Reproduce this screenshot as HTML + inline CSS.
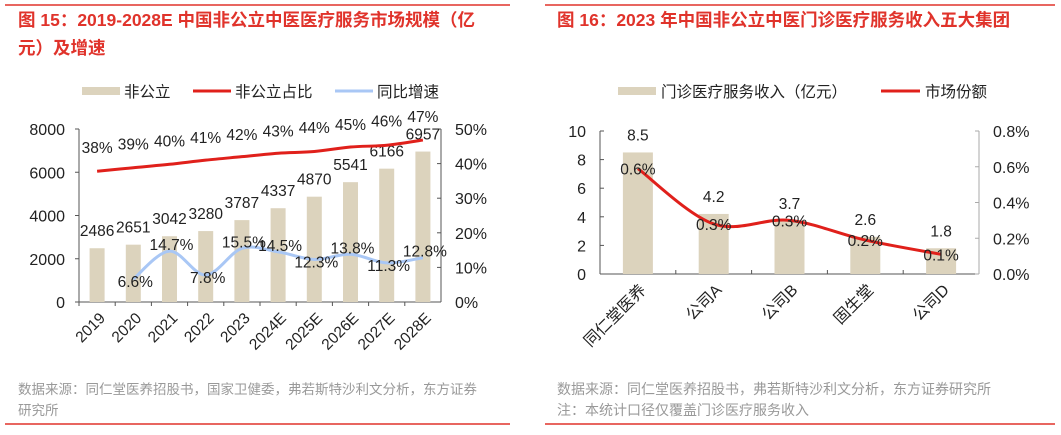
<!DOCTYPE html>
<html><head><meta charset="utf-8"><style>
body{margin:0;width:1061px;height:430px;background:#fff;overflow:hidden;font-family:"Liberation Sans","Noto Sans CJK SC",sans-serif}
svg text{font-family:"Liberation Sans","Noto Sans CJK SC",sans-serif}
</style></head><body>
<svg id="s" width="1061" height="430">
<line x1="5" y1="5" x2="510" y2="5" stroke="#e0332b" stroke-width="1.5"/>
<line x1="5" y1="424" x2="510" y2="424" stroke="#e0332b" stroke-width="1.5"/>
<line x1="545" y1="5" x2="1055" y2="5" stroke="#e0332b" stroke-width="1.5"/>
<line x1="545" y1="424" x2="1055" y2="424" stroke="#e0332b" stroke-width="1.5"/>
<text x="18" y="26" font-size="17.5" font-weight="bold" fill="#e0332b">图  15：2019-2028E 中国非公立中医医疗服务市场规模（亿</text>
<text x="18" y="54" font-size="17.5" font-weight="bold" fill="#e0332b">元）及增速</text>
<text x="557" y="26" font-size="17.5" font-weight="bold" fill="#e0332b">图 16：2023 年中国非公立中医门诊医疗服务收入五大集团</text>
<text x="18" y="394" font-size="13.5" fill="#999">数据来源：同仁堂医养招股书，国家卫健委，弗若斯特沙利文分析，东方证券</text>
<text x="18" y="415" font-size="13.5" fill="#999">研究所</text>
<text x="557" y="394" font-size="14" fill="#999">数据来源：同仁堂医养招股书，弗若斯特沙利文分析，东方证券研究所</text>
<text x="557" y="415" font-size="14" fill="#999">注：本统计口径仅覆盖门诊医疗服务收入</text>
<g id="c1"></g>
<g id="c2"></g>
</svg>
<script>
const years=["2019","2020","2021","2022","2023","2024E","2025E","2026E","2027E","2028E"];
const sizeVals=[2486,2651,3042,3280,3787,4337,4870,5541,6166,6957];
const shareVals=[38,39,40,41,42,43,44,45,46,47];
const shareLineVals=[37.8,38.8,39.8,41,42,43,43.5,44.8,45.3,46.8];
const growthVals=[null,6.6,14.7,7.8,15.5,14.5,12.3,13.8,11.3,12.8];
const leftTicks=[0,2000,4000,6000,8000];
const rightTicks=[0,10,20,30,40,50];

const companies=["同仁堂医养","公司A","公司B","固生堂","公司D"];
const revenueVals=[8.5,4.2,3.7,2.6,1.8];
const mktShareVals=[0.59,0.28,0.30,0.19,0.11];
const mktShareLabels=["0.6%","0.3%","0.3%","0.2%","0.1%"];
const leftTicks2=[0,2,4,6,8,10];
const rightTicks2=[0,0.2,0.4,0.6,0.8];

const NS="http://www.w3.org/2000/svg";
function mk(p,tag,a,txt){const e=document.createElementNS(NS,tag);for(const k in a)e.setAttribute(k,a[k]);if(txt!=null)e.textContent=txt;p.appendChild(e);return e;}
function smooth(pts){let d="M"+pts[0][0]+","+pts[0][1];for(let i=0;i<pts.length-1;i++){const p0=pts[i-1]||pts[i],p1=pts[i],p2=pts[i+1],p3=pts[i+2]||p2;const t=6;d+=` C${p1[0]+(p2[0]-p0[0])/t},${p1[1]+(p2[1]-p0[1])/t} ${p2[0]-(p3[0]-p1[0])/t},${p2[1]-(p3[1]-p1[1])/t} ${p2[0]},${p2[1]}`;}return d;}

// chart 1
(function(){
const g=document.getElementById('c1');
const x0=79,x1=441,y0=302,yT=129,n=years.length,bw=(x1-x0)/n;
const xc=i=>x0+bw*(i+0.5);
const yL=v=>y0-(v/8000)*(y0-yT);
const yR=v=>y0-(v/50)*(y0-yT);
let e;
e=mk(g,'rect',{x:82,y:87,width:38,height:8,fill:'#dcd3bd'});

e=mk(g,'text',{x:124,y:97,'font-size':15.5,fill:'#222'},'非公立');

e=mk(g,'line',{x1:193,y1:91,x2:231,y2:91,stroke:'#e0201b','stroke-width':3});

e=mk(g,'text',{x:235,y:97,'font-size':15.5,fill:'#222'},'非公立占比');

e=mk(g,'line',{x1:335,y1:91,x2:373,y2:91,stroke:'#a9c7f5','stroke-width':3});

e=mk(g,'text',{x:377,y:97,'font-size':15.5,fill:'#222'},'同比增速');

e=mk(g,'line',{x1:x0,y1:yT,x2:x0,y2:y0,stroke:'#555'});

e=mk(g,'line',{x1:x1,y1:yT,x2:x1,y2:y0,stroke:'#555'});

e=mk(g,'line',{x1:x0,y1:y0,x2:x1,y2:y0,stroke:'#555'});

leftTicks.forEach(v=>{mk(g,'line',{x1:x0-4,y1:yL(v),x2:x0,y2:yL(v),stroke:'#555'});
e=mk(g,'text',{x:65,y:yL(v)+6,'font-size':16,'text-anchor':'end',fill:'#222'},v);
});
rightTicks.forEach(v=>{mk(g,'line',{x1:x1-4,y1:yR(v),x2:x1,y2:yR(v),stroke:'#555'});
e=mk(g,'text',{x:455,y:yR(v)+6,'font-size':16,fill:'#222'},v+'%');
});
years.forEach((yr,i)=>{
 mk(g,'line',{x1:x0+bw*i,y1:y0,x2:x0+bw*i,y2:y0+4,stroke:'#555'});
 e=mk(g,'rect',{x:xc(i)-7.5,y:yL(sizeVals[i]),width:15,height:y0-yL(sizeVals[i]),fill:'#dcd3bd'});
 
 e=mk(g,'text',{x:xc(i),y:yL(sizeVals[i])-12,'font-size':15.5,'text-anchor':'middle',fill:'#222'},sizeVals[i]);
 
 e=mk(g,'text',{transform:`translate(${xc(i)+9},${y0+17}) rotate(-45)`,'font-size':15.5,'text-anchor':'end',fill:'#222'},yr);
 
});
e=mk(g,'path',{d:smooth(shareLineVals.map((v,i)=>[xc(i),yR(v)])),fill:'none',stroke:'#e0201b','stroke-width':3});

shareVals.forEach((v,i)=>{e=mk(g,'text',{x:xc(i),y:i==9?122:(153-i*3.3),'font-size':15.5,'text-anchor':'middle',fill:'#222'},v+'%');
 });
const gp=[];growthVals.forEach((v,i)=>{if(v!=null)gp.push([xc(i),yR(v)]);});
e=mk(g,'path',{d:smooth(gp),fill:'none',stroke:'#a9c7f5','stroke-width':3});

growthVals.forEach((v,i)=>{if(v==null)return;const below=(i==1||i==3||i==6||i==8);
 e=mk(g,'text',{x:xc(i)+2,y:yR(v)+(below?8:-1),'font-size':15.5,'text-anchor':'middle',fill:'#222'},v.toFixed(1)+'%');
 });
})();

// chart 2
(function(){
const g=document.getElementById('c2');
const x0=600,x1=979,y0=274,yT=131,n=companies.length,bw=(x1-x0)/n;
const xc=i=>x0+bw*(i+0.5);
const yL=v=>y0-(v/10)*(y0-yT);
const yR=v=>y0-(v/0.8)*(y0-yT);
let e;
e=mk(g,'rect',{x:618,y:87,width:38,height:8,fill:'#dcd3bd'});

e=mk(g,'text',{x:661,y:97,'font-size':15.5,fill:'#222'},'门诊医疗服务收入（亿元）');

e=mk(g,'line',{x1:881,y1:91,x2:920,y2:91,stroke:'#e0201b','stroke-width':3});

e=mk(g,'text',{x:925,y:97,'font-size':15.5,fill:'#222'},'市场份额');

e=mk(g,'line',{x1:x0,y1:yT,x2:x0,y2:y0,stroke:'#555'});

e=mk(g,'line',{x1:x1,y1:yT,x2:x1,y2:y0,stroke:'#aaa'});

e=mk(g,'line',{x1:x0,y1:y0,x2:x1,y2:y0,stroke:'#555'});

leftTicks2.forEach(v=>{mk(g,'line',{x1:x0,y1:yL(v),x2:x0+4,y2:yL(v),stroke:'#555'});
e=mk(g,'text',{x:586,y:yL(v)+6,'font-size':16,'text-anchor':'end',fill:'#222'},v);
});
rightTicks2.forEach(v=>{mk(g,'line',{x1:x1-4,y1:yR(v),x2:x1,y2:yR(v),stroke:'#aaa'});
e=mk(g,'text',{x:993,y:yR(v)+6,'font-size':16,fill:'#222'},v.toFixed(1)+'%');
});
companies.forEach((c,i)=>{
 mk(g,'line',{x1:x0+bw*i,y1:y0,x2:x0+bw*i,y2:y0-4,stroke:'#555'});
 e=mk(g,'rect',{x:xc(i)-15,y:yL(revenueVals[i]),width:30,height:y0-yL(revenueVals[i]),fill:'#dcd3bd'});
 
 e=mk(g,'text',{x:xc(i),y:yL(revenueVals[i])-12,'font-size':15.5,'text-anchor':'middle',fill:'#222'},revenueVals[i].toFixed(1));
 
 e=mk(g,'text',{transform:`translate(${xc(i)+9},${y0+17}) rotate(-45)`,'font-size':16,'text-anchor':'end',fill:'#222'},c);
 
});
e=mk(g,'path',{d:smooth(mktShareVals.map((v,i)=>[xc(i),yR(v)])),fill:'none',stroke:'#e0201b','stroke-width':3});

mktShareLabels.forEach((l,i)=>{e=mk(g,'text',{x:xc(i),y:yR(mktShareVals[i])+6,'font-size':15.5,'text-anchor':'middle',fill:'#222'},l);
 });
})();
</script>
</body></html>
